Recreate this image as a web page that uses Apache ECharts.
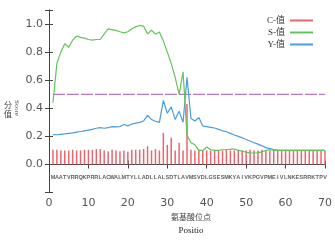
<!DOCTYPE html>
<html>
<head>
<meta charset="utf-8">
<script src="https://cdn.jsdelivr.net/npm/echarts@6/dist/echarts.min.js"></script>
<style>
  html, body { margin: 0; padding: 0; background: #fff; }
  #chart { width: 335px; height: 240px; }
</style>
</head>
<body>
<div id="chart"></div>
<script>
// 氨基酸序列
var sequence = 'MAATVRRQKPRRLACWALMTYLLADLLALSDTLAVMSVDLGSESMKYAIVKPGVPMEIVLNKESRRKTPV';

// C-值 (bars)
var cValues = [
    0.105, 0.105, 0.10, 0.10, 0.10, 0.105, 0.10, 0.10, 0.105, 0.105,
    0.105, 0.11, 0.11, 0.10, 0.095, 0.105, 0.10, 0.095, 0.10, 0.09,
    0.105, 0.105, 0.105, 0.11, 0.13, 0.10, 0.11, 0.10, 0.225, 0.14,
    0.19, 0.10, 0.155, 0.10, 0.43, 0.105, 0.10, 0.105, 0.10, 0.10,
    0.10, 0.105, 0.10, 0.10, 0.105, 0.10, 0.10, 0.105, 0.10, 0.10,
    0.105, 0.10, 0.10, 0.105, 0.10, 0.10, 0.105, 0.10, 0.10, 0.105,
    0.10, 0.10, 0.105, 0.10, 0.10, 0.105, 0.10, 0.10, 0.105, 0.10
];

// S-值
var sValues = [
    0.44, 0.72, 0.80, 0.86, 0.835, 0.885, 0.915, 0.905, 0.90, 0.89,
    0.885, 0.89, 0.89, 0.93, 0.965, 0.96, 0.955, 0.945, 0.937, 0.945,
    0.966, 0.98, 0.99, 0.985, 0.93, 0.956, 0.928, 0.943, 0.88, 0.80,
    0.72, 0.62, 0.50, 0.66, 0.21, 0.155, 0.14, 0.10, 0.10, 0.125,
    0.105, 0.10, 0.10, 0.105, 0.105, 0.11, 0.11, 0.10, 0.095, 0.087,
    0.083, 0.082, 0.083, 0.09, 0.10, 0.105, 0.102, 0.10, 0.10, 0.10,
    0.10, 0.10, 0.10, 0.10, 0.10, 0.10, 0.10, 0.10, 0.10, 0.10
];

// Y-值
var yValues = [
    0.213, 0.212, 0.215, 0.218, 0.222, 0.225, 0.23, 0.235, 0.24, 0.245,
    0.25, 0.258, 0.262, 0.258, 0.262, 0.27, 0.268, 0.27, 0.285, 0.275,
    0.288, 0.295, 0.30, 0.31, 0.35, 0.32, 0.308, 0.30, 0.456, 0.365,
    0.41, 0.32, 0.38, 0.30, 0.62, 0.33, 0.31, 0.335, 0.275, 0.27,
    0.265, 0.26, 0.25, 0.24, 0.233, 0.222, 0.21, 0.20, 0.19, 0.178,
    0.167, 0.155, 0.145, 0.133, 0.12, 0.113, 0.106, 0.102, 0.10, 0.10,
    0.10, 0.10, 0.10, 0.10, 0.10, 0.10, 0.10, 0.10, 0.10, 0.10
];

// 阈值线
var threshold = 0.5;
var seqLabelY = -0.095;

function toPairs(arr) {
    return arr.map(function (v, i) { return [i + 1, v]; });
}

var myChart = echarts.init(document.getElementById('chart'));

var axisColor = '#444';
var serif = '"Liberation Serif", "Noto Sans CJK SC", serif';

var option = {
    backgroundColor: '#fff',
    animation: false,
    grid: { left: 49, right: 7, top: 10, height: 192 },
    legend: {
        orient: 'vertical',
        right: 17,
        top: 11,
        align: 'right',
        itemWidth: 23,
        itemHeight: 2,
        itemGap: 3,
        icon: 'rect',
        textStyle: { fontFamily: serif, fontSize: 9, color: '#333' },
        data: ['C-值', 'S-值', 'Y-值']
    },
    xAxis: [{
        type: 'value',
        min: 0, max: 70, interval: 10,
        axisLine: { lineStyle: { color: axisColor } },
        axisTick: { inside: true, length: 4, lineStyle: { color: axisColor } },
        axisLabel: { color: '#555', fontSize: 11, margin: 5, fontFamily: 'DejaVu Sans' },
        splitLine: { show: false },
        name: '{a|氨基酸位点}\n{b|Positio}',
        nameLocation: 'middle',
        nameGap: 12,
        nameTextStyle: {
            padding: [0, 0, 0, 8],
            rich: {
                a: { fontFamily: serif, fontSize: 8, color: '#444', lineHeight: 13 },
                b: { fontFamily: serif, fontSize: 9, color: '#222', lineHeight: 13 }
            }
        }
    }, {
        type: 'value', position: 'top',
        min: 0, max: 70, interval: 10,
        axisLine: { lineStyle: { color: axisColor } },
        axisTick: { inside: true, length: 4, lineStyle: { color: axisColor } },
        axisLabel: { show: false },
        splitLine: { show: false }
    }],
    yAxis: [{
        type: 'value',
        min: -0.2, max: 1.1, interval: 0.2,
        axisLine: { show: true, lineStyle: { color: axisColor } },
        axisTick: { show: true, inside: true, length: 4, lineStyle: { color: axisColor } },
        axisLabel: {
            color: '#555', fontSize: 11, margin: 6, fontFamily: 'DejaVu Sans',
            formatter: function (v) {
                if (v < -0.05 || v > 1.05) return '';
                return v.toFixed(1);
            }
        },
        splitLine: { show: false }
    }, {
        type: 'value', position: 'right',
        min: -0.2, max: 1.1, interval: 0.2,
        axisLine: { show: true, lineStyle: { color: axisColor } },
        axisTick: { show: true, inside: true, length: 4, lineStyle: { color: axisColor } },
        axisLabel: { show: false },
        splitLine: { show: false }
    }],
    graphic: [{
        type: 'text',
        left: 4, top: 100,
        style: { text: '分\n值', font: '8px "Noto Sans CJK SC"', fill: '#444', lineHeight: 9 }
    }, {
        type: 'text',
        x: 17, y: 108,
        rotation: -Math.PI / 2,
        style: {
            text: 'Score', font: '7px "Liberation Serif"', fill: '#444',
            align: 'center', verticalAlign: 'middle'
        }
    }],
    series: [{
        name: 'C-值',
        type: 'bar',
        barWidth: 1.5,
        itemStyle: { color: '#e8666e' },
        data: toPairs(cValues),
        z: 2
    }, {
        name: 'S-值',
        type: 'line',
        showSymbol: false,
        symbol: 'none',
        lineStyle: { color: '#62c45a', width: 1.2 },
        itemStyle: { color: '#62c45a' },
        data: toPairs(sValues),
        z: 4
    }, {
        name: 'Y-值',
        type: 'line',
        showSymbol: false,
        symbol: 'none',
        lineStyle: { color: '#4a9de0', width: 1.2 },
        itemStyle: { color: '#4a9de0' },
        data: toPairs(yValues),
        z: 3
    }, {
        name: 'threshold',
        type: 'line',
        symbol: 'none',
        lineStyle: { color: '#b07ac8', width: 1.2, type: [12, 2] },
        data: [[1, threshold], [70, threshold]],
        z: 1
    }, {
        name: 'seq',
        type: 'scatter',
        symbolSize: 0,
        data: sequence.split('').map(function (c, i) {
            return { name: c, value: [i + 1, seqLabelY] };
        }),
        label: {
            show: true,
            position: 'inside',
            formatter: '{b}',
            fontSize: 5.5,
            fontWeight: 'bold',
            fontFamily: 'Liberation Sans',
            color: '#333'
        },
        silent: true
    }]
};

myChart.setOption(option);
window.addEventListener('resize', function () {
    myChart.resize();
});
</script>
</body>
</html>
